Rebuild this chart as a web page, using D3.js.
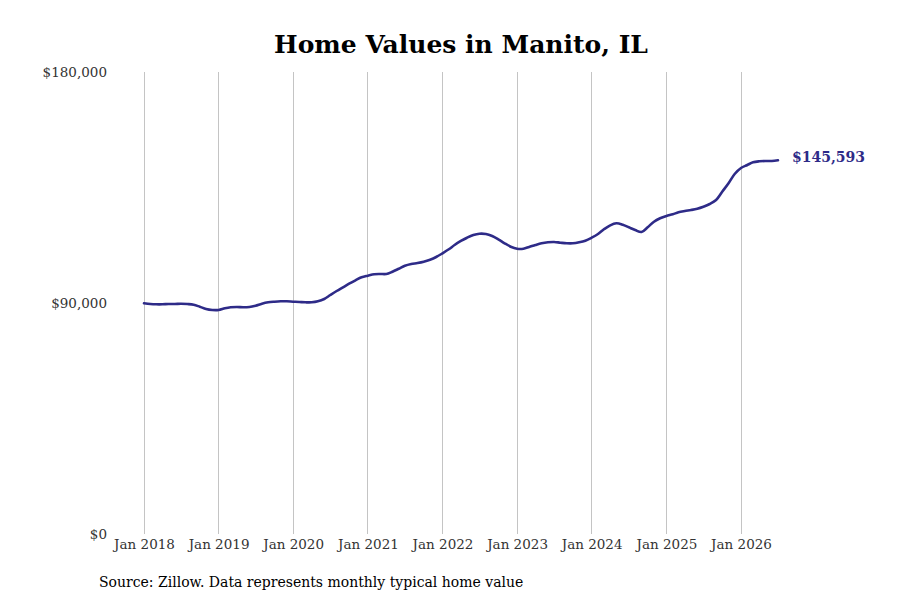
<!DOCTYPE html>
<html>
<head>
<meta charset="utf-8">
<script src="https://cdn.jsdelivr.net/npm/d3@7"></script>
<style>
  html, body { margin: 0; padding: 0; background: #fff; }
  svg { display: block; }
  text { font-family: "DejaVu Serif", serif; }
</style>
</head>
<body>
<svg id="chart" width="900" height="600"></svg>
<script>
// ---- Data ----
const startMonth = "2018-01";
const values = [
  // 2018
  89880, 89610, 89490, 89490, 89610, 89610, 89730, 89610, 89340, 88560, 87660, 87270,
  // 2019
  87270, 87930, 88320, 88440, 88320, 88440, 88950, 89730, 90270, 90510, 90660, 90660,
  // 2020
  90510, 90390, 90270, 90270, 90660, 91560, 93120, 94680, 96120, 97520, 98840, 100010,
  // 2021
  100640, 101180, 101300, 101300, 102200, 103360, 104530, 105200, 105580, 106090, 106870, 107920,
  // 2022
  109360, 110920, 112600, 114160, 115440, 116490, 117000, 116880, 116100, 114820, 113260, 111940,
  // 2023
  111160, 111160, 111820, 112600, 113260, 113650, 113770, 113490, 113260, 113260, 113650, 114270,
  // 2024
  115440, 116880, 118710, 120270, 121050, 120510, 119490, 118440, 117660, 119490, 121680, 123000,
  // 2025
  123900, 124560, 125340, 125840, 126230, 126740, 127520, 128570, 130130, 133360, 136640, 140260,
  // 2026
  142600, 143770, 144820, 145210, 145330, 145330, 145593
];
const yTicks = [0, 90000, 180000];
const xTickYears = [2018, 2019, 2020, 2021, 2022, 2023, 2024, 2025, 2026];
const titleText = "Home Values in Manito, IL";
const sourceText = "Source: Zillow. Data represents monthly typical home value";
const endLabel = "$145,593";

// ---- Build dates ----
const parseMonth = d3.timeParse("%Y-%m");
const start = parseMonth(startMonth);
const data = values.map((v, i) => ({ date: d3.timeMonth.offset(start, i), value: v }));

const svg = d3.select("#chart");
const lineColor = "#2e2b88";

const x = d3.scaleTime()
  .domain([new Date(2018, 0, 1), new Date(2026, 0, 1)])
  .range([144, 741]);
const y = d3.scaleLinear().domain([0, 180000]).range([534, 72]);

// Title
svg.append("text")
  .attr("x", 461).attr("y", 53)
  .attr("text-anchor", "middle")
  .attr("font-size", 25).attr("font-weight", "bold")
  .attr("fill", "#000")
  .text(titleText);

// Vertical gridlines
const xTickDates = xTickYears.map(yr => new Date(yr, 0, 1));
svg.append("g").selectAll("line").data(xTickDates).join("line")
  .attr("x1", d => x(d)).attr("x2", d => x(d))
  .attr("y1", y(180000)).attr("y2", y(0))
  .attr("stroke", "#c4c4c4").attr("stroke-width", 1)
  .attr("shape-rendering", "crispEdges");

// X axis labels
const xAxis = d3.axisBottom(x).tickValues(xTickDates).tickFormat(d3.timeFormat("Jan %Y")).tickSize(0).tickPadding(5);
const gx = svg.append("g").attr("transform", `translate(0,${y(0)})`).call(xAxis);
gx.select(".domain").remove();
gx.selectAll("text").attr("font-family", "DejaVu Serif").attr("font-size", 13.5).attr("fill", "#333");

// Y axis labels
const yAxis = d3.axisLeft(y).tickValues(yTicks).tickFormat(d => "$" + d3.format(",")(d)).tickSize(0).tickPadding(0);
const gy = svg.append("g").attr("transform", `translate(107,0)`).call(yAxis);
gy.select(".domain").remove();
gy.selectAll("text").attr("font-family", "DejaVu Serif").attr("font-size", 13.5).attr("fill", "#333");

// Line
const line = d3.line().x(d => x(d.date)).y(d => y(d.value)).curve(d3.curveCatmullRom.alpha(0.5));
svg.append("path").datum(data)
  .attr("d", line)
  .attr("fill", "none")
  .attr("stroke", lineColor)
  .attr("stroke-width", 2.6)
  .attr("stroke-linejoin", "round")
  .attr("stroke-linecap", "round");

// End label
const last = data[data.length - 1];
svg.append("text")
  .attr("x", x(last.date) + 14).attr("y", y(last.value) - 0)
  .attr("dy", "0.1em")
  .attr("font-size", 14).attr("font-weight", "bold")
  .attr("fill", lineColor)
  .text(endLabel);

// Source
svg.append("text")
  .attr("x", 99).attr("y", 587)
  .attr("font-size", 14).attr("fill", "#000")
  .text(sourceText);
</script>
</body>
</html>
